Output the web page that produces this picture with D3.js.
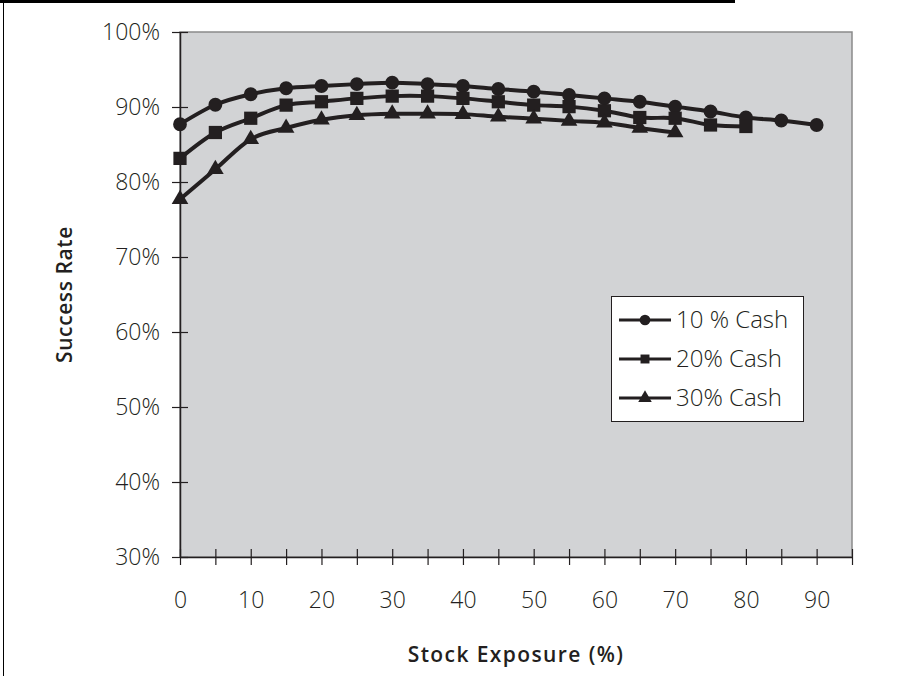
<!DOCTYPE html>
<html>
<head>
<meta charset="utf-8">
<script src="https://cdn.jsdelivr.net/npm/d3@7"></script>
<style>
  html, body { margin: 0; padding: 0; background: #fff; }
  svg { display: block; }
  text { font-family: "Open Sans", "DejaVu Sans", sans-serif; fill: #231f20; }
</style>
</head>
<body>
<script>
// ---- data ----
const stockExposure = [0, 5, 10, 15, 20, 25, 30, 35, 40, 45, 50, 55, 60, 65, 70, 75, 80, 85, 90];
const cash10 = [87.7, 90.3, 91.7, 92.5, 92.8, 93.05, 93.25, 93.05, 92.8, 92.4, 92.05, 91.6, 91.15, 90.7, 90.05, 89.4, 88.6, 88.2, 87.6];
const cash20 = [83.15, 86.6, 88.5, 90.25, 90.7, 91.15, 91.45, 91.45, 91.15, 90.7, 90.25, 90.05, 89.5, 88.6, 88.5, 87.6, 87.4];
const cash30 = [77.7, 81.7, 85.7, 87.2, 88.3, 88.9, 89.1, 89.1, 89.05, 88.7, 88.45, 88.15, 87.9, 87.2, 86.6];
const seriesNames = ["10 % Cash", "20% Cash", "30% Cash"];
const yTicks = [30, 40, 50, 60, 70, 80, 90, 100];
const xLabelTicks = [0, 10, 20, 30, 40, 50, 60, 70, 80, 90];
const xMinorTicks = [0, 5, 10, 15, 20, 25, 30, 35, 40, 45, 50, 55, 60, 65, 70, 75, 80, 85, 90, 95];

const W = 901, H = 676;
const plot = { left: 180, right: 852, top: 32, bottom: 557 };
const ink = "#231f20";
const labelInk = "#2a2a2a";

const svg = d3.select("body").append("svg").attr("width", W).attr("height", H);

// page frame lines
svg.append("rect").attr("x", 0).attr("y", 0).attr("width", 735).attr("height", 3).attr("fill", "#000");
svg.append("line").attr("x1", 3.5).attr("x2", 3.5).attr("y1", 0).attr("y2", H).attr("stroke", "#000").attr("stroke-width", 1);

const x = d3.scaleLinear().domain([0, 95]).range([plot.left, plot.right]);
const y = d3.scaleLinear().domain([30, 100]).range([plot.bottom, plot.top]);

// plot background
svg.append("rect")
  .attr("x", plot.left).attr("y", plot.top)
  .attr("width", plot.right - plot.left).attr("height", plot.bottom - plot.top)
  .attr("fill", "#d2d3d5").attr("stroke", "#8a8a8a").attr("stroke-width", 1.5);

// y axis
const yAxis = d3.axisLeft(y).tickValues(yTicks).tickFormat(d => d + "%").tickSize(0).tickPadding(20);
const gy = svg.append("g").attr("transform", `translate(${plot.left},0)`).call(yAxis);
gy.select(".domain").attr("stroke", ink).attr("stroke-width", 1.5);
gy.selectAll(".tick text").attr("font-size", 23).attr("fill", labelInk).attr("font-weight", 300)
  .attr("font-family", "'Open Sans', sans-serif");
gy.selectAll(".tick").append("line").attr("x1", -8).attr("x2", 8).attr("stroke", ink).attr("stroke-width", 1.2);

// x axis
const gx = svg.append("g").attr("transform", `translate(0,${plot.bottom})`);
gx.call(d3.axisBottom(x).tickValues(xMinorTicks).tickFormat("").tickSize(0));
gx.select(".domain").attr("stroke", ink).attr("stroke-width", 1.5);
gx.selectAll(".tick").append("line").attr("y1", -8).attr("y2", 8).attr("stroke", ink).attr("stroke-width", 1.2);
const gxl = svg.append("g").attr("transform", `translate(0,${plot.bottom})`)
  .call(d3.axisBottom(x).tickValues(xLabelTicks).tickSize(0).tickPadding(35));
gxl.select(".domain").remove();
gxl.selectAll(".tick text").attr("font-size", 23).attr("fill", labelInk).attr("font-weight", 300)
  .attr("font-family", "'Open Sans', sans-serif");

// axis titles
svg.append("text")
  .attr("x", (plot.left + plot.right) / 2).attr("y", 662)
  .attr("text-anchor", "middle").attr("font-size", 21).attr("font-weight", 600)
  .attr("letter-spacing", 1.4)
  .text("Stock Exposure (%)");
svg.append("text")
  .attr("transform", `translate(72,${(plot.top + plot.bottom) / 2}) rotate(-90)`)
  .attr("text-anchor", "middle").attr("font-size", 21).attr("font-weight", 600)
  .attr("letter-spacing", 0.6)
  .text("Success Rate");

// series
const seriesData = [cash10, cash20, cash30];
const symbols = [d3.symbolCircle, d3.symbolSquare, d3.symbolTriangle];
const symSizes = [150, 175, 120];
const line = d3.line().x(d => x(d.x)).y(d => y(d.y)).curve(d3.curveCardinal.tension(0));

seriesData.forEach((vals, i) => {
  const pts = vals.map((v, j) => ({ x: stockExposure[j], y: v }));
  svg.append("path").datum(pts).attr("d", line)
    .attr("fill", "none").attr("stroke", ink).attr("stroke-width", 4);
  svg.append("g").selectAll("path").data(pts).join("path")
    .attr("transform", d => `translate(${x(d.x)},${y(d.y)})`)
    .attr("d", d3.symbol().type(symbols[i]).size(symSizes[i]))
    .attr("fill", ink);
});

// legend
const lg = svg.append("g");
lg.append("rect").attr("x", 611.5).attr("y", 296.5).attr("width", 192).attr("height", 125)
  .attr("fill", "#fff").attr("stroke", ink).attr("stroke-width", 1);
const legendSizes = [90, 80, 80];
seriesNames.forEach((name, i) => {
  const cy = 320 + i * 39;
  lg.append("line").attr("x1", 619).attr("x2", 671).attr("y1", cy).attr("y2", cy)
    .attr("stroke", ink).attr("stroke-width", 3);
  lg.append("path").attr("transform", `translate(645,${cy})`)
    .attr("d", d3.symbol().type(symbols[i]).size(legendSizes[i])).attr("fill", ink);
  lg.append("text").attr("x", 676).attr("y", cy).attr("dy", "0.35em")
    .attr("font-size", 24).attr("font-weight", 300).attr("fill", labelInk).text(name);
});
</script>
</body>
</html>
